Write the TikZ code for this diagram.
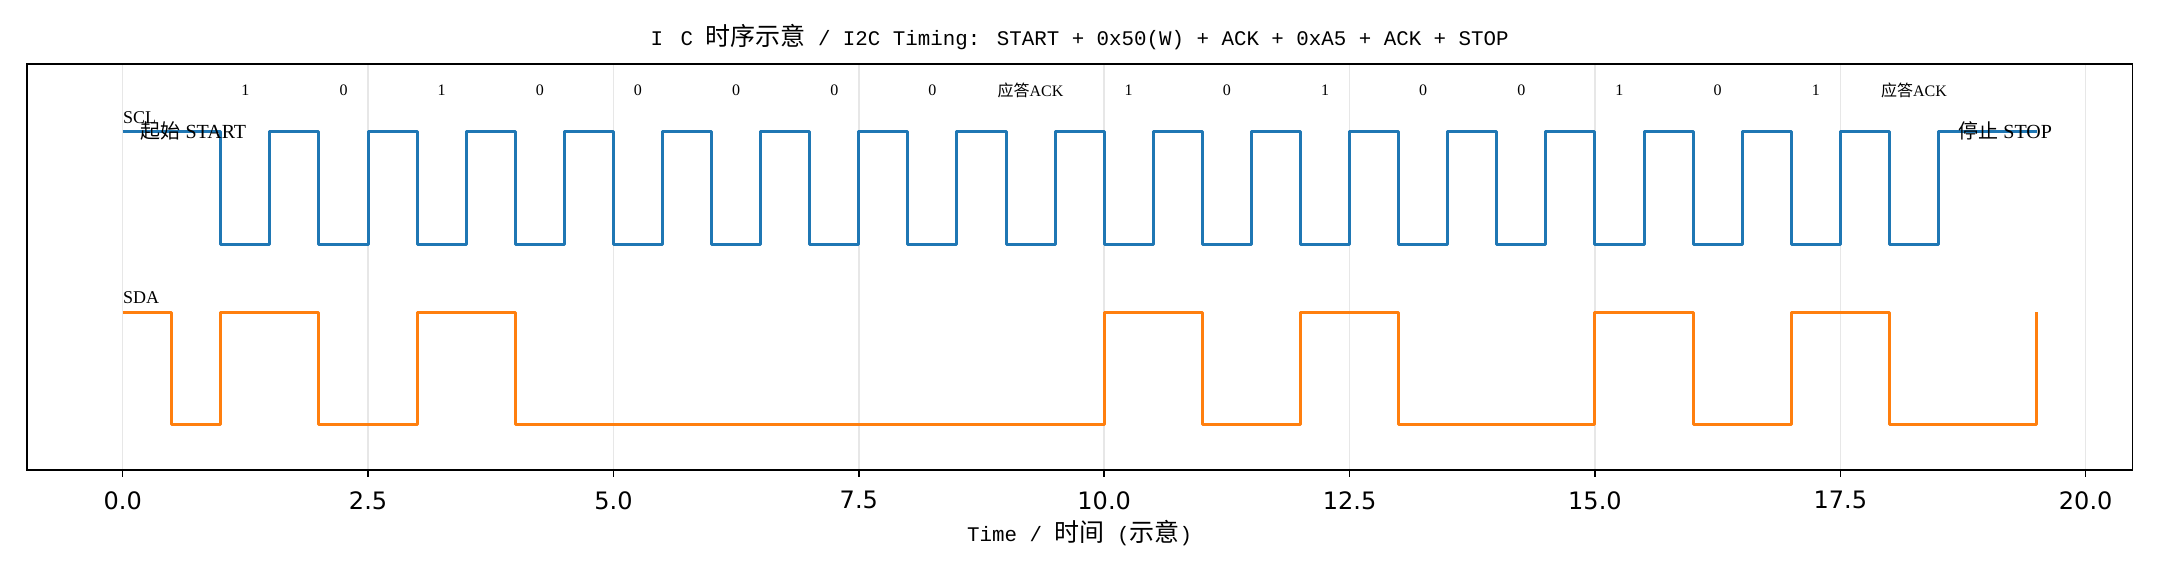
\documentclass[tikz,border=0pt]{standalone}
\usepackage{fontspec}
\setmainfont{Liberation Serif}
\newfontfamily\cjk{Noto Sans CJK SC}
\newfontfamily\monof{Liberation Mono}
\newfontfamily\tickf{DejaVu Sans}
\definecolor{sclblue}{HTML}{1F77B4}
\definecolor{sdaorange}{HTML}{FF7F0E}
\definecolor{gridgray}{HTML}{E7E7E7}
\tikzset{
  gridline/.style={draw=gridgray, line width=0.8pt},
  spine/.style={draw=black, line width=0.8pt},
  tickmark/.style={draw=black, line width=0.8pt},
  ticklabel/.style={anchor=north, inner sep=0pt, font=\tickf\fontsize{12}{14}\selectfont},
  sclline/.style={draw=sclblue, line width=1.5pt, line join=round},
  sdaline/.style={draw=sdaorange, line width=1.5pt, line join=round},
  bitlabel/.style={inner sep=0pt, font=\fontsize{8}{9.6}\selectfont},
  siglabel/.style={anchor=base west, inner sep=0pt, font=\fontsize{9}{10.8}\selectfont},
  evlabel/.style={inner sep=0pt, font=\fontsize{10}{12}\selectfont},
  titlelabel/.style={inner sep=0pt, font=\monof\fontsize{10.4}{13}\selectfont},
}
\begin{document}
\begin{tikzpicture}[x=49.075pt, y=56.4pt]
\useasboundingbox (-1.2501,-1.3395) rectangle (20.7574,3.7668);
% grid
\foreach \t in {0,2.5,...,20} \draw[gridline] (\t,-0.4) -- (\t,3.2);
% SCL
\draw[sclline] (0,2.6) -- (1,2.6)
  \foreach \k in {1,...,18}{ -- (\k,1.6) -- (\k+0.5,1.6) -- (\k+0.5,2.6) -- (\k+1,2.6)} -- (19.5,2.6);
% SDA
\draw[sdaline] (0,1) -- (0.5,1) -- (0.5,0) -- (1,0) -- (1,1) -- (2,1) -- (2,0) -- (3,0) -- (3,1) -- (4,1) -- (4,0)
  -- (10,0) -- (10,1) -- (11,1) -- (11,0) -- (12,0) -- (12,1) -- (13,1) -- (13,0) -- (15,0) -- (15,1) -- (16,1)
  -- (16,0) -- (17,0) -- (17,1) -- (18,1) -- (18,0) -- (19.5,0) -- (19.5,1);
% signal names
\node[siglabel] (scl) at (0,2.676) {SCL};
\node[siglabel] (sda) at (0,1.072) {SDA};
% events
\node[evlabel] (start) at (0.72,2.61) {{\cjk 起始} START};
\node[evlabel] (stop) at (19.18,2.61) {{\cjk 停止} STOP};
% bits
\foreach \x/\v [count=\i] in {1.25/1,2.25/0,3.25/1,4.25/0,5.25/0,6.25/0,7.25/0,8.25/0,9.25/{{\cjk 应答}ACK},
  10.25/1,11.25/0,12.25/1,13.25/0,14.25/0,15.25/1,16.25/0,17.25/1,18.25/{{\cjk 应答}ACK}}
  \node[bitlabel] (bit\i) at (\x,2.965) {\v};
% frame
\draw[spine] (-0.975,-0.4) rectangle (20.475,3.2);
% ticks
\foreach \t/\l [count=\i] in {0/0.0,2.5/2.5,5/5.0,7.5/7.5,10/10.0,12.5/12.5,15/15.0,17.5/17.5,20/20.0}{
  \draw[tickmark] (\t,-0.4) -- ++(0,-3.5pt);
  \node[ticklabel] (tl\i) at (\t,-0.586) {\l};
}
% axis label and title
\node[titlelabel] (xlabel) at (9.75,-0.958) {Time / {\cjk\fontsize{12.5}{14}\selectfont 时间} ({\cjk\fontsize{12.5}{14}\selectfont 示意})};
\node[titlelabel] (title) at (9.75,3.44) {I\hspace{8.75pt}C {\cjk\fontsize{12.5}{14}\selectfont 时序示意} / I2C Timing: START + 0x50(W) + ACK + 0xA5 + ACK + STOP};
\end{tikzpicture}
\end{document}
